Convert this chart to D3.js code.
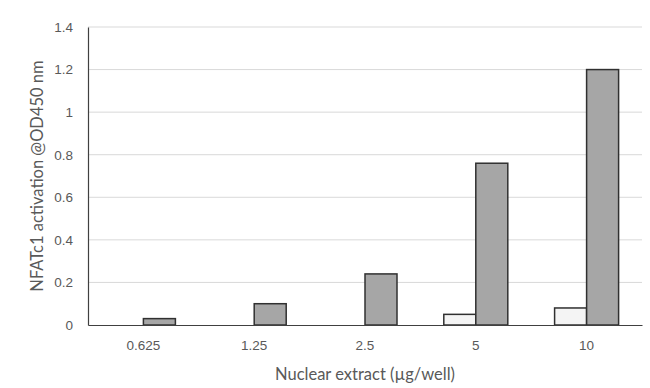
<!DOCTYPE html>
<html>
<head>
<meta charset="utf-8">
<script src="https://cdn.jsdelivr.net/npm/d3@7"></script>
<style>
  body { margin: 0; background: #fff; }
  svg { font-family: Lato, "Open Sans", sans-serif; }
</style>
</head>
<body>
<svg></svg>
<script>
const categories = ['0.625', '1.25', '2.5', '5', '10'];
const seriesNames = ['blank', 'sample'];
const blankValues = [0, 0, 0, 0.05, 0.08];
const sampleValues = [0.03, 0.10, 0.24, 0.76, 1.20];
const yTicks = [0, 0.2, 0.4, 0.6, 0.8, 1, 1.2, 1.4];

const width = 650, height = 388;
const margin = {top: 27, right: 8, bottom: 63, left: 88};

const svg = d3.select('svg').attr('width', width).attr('height', height);

const x0 = d3.scaleBand()
	.domain(categories)
	.range([margin.left, width - margin.right])
	.padding(0);

const barW = 32;
const x1 = d3.scaleBand()
	.domain(seriesNames)
	.range([x0.bandwidth() / 2 - barW, x0.bandwidth() / 2 + barW]);

const y = d3.scaleLinear()
	.domain([0, 1.4])
	.range([height - margin.bottom, margin.top]);

// gridlines
svg.append('g')
	.selectAll('line')
	.data(yTicks.filter(d => d > 0))
	.enter().append('line')
	.attr('x1', margin.left)
	.attr('x2', width - margin.right)
	.attr('y1', d => y(d))
	.attr('y2', d => y(d))
	.attr('stroke', '#d9d9d9')
	.attr('stroke-width', 1);

const rows = categories.map((c, i) => ({cat: c, blank: blankValues[i], sample: sampleValues[i]}));
const fills = {blank: '#f4f4f4', sample: '#a6a6a6'};

svg.append('g')
	.selectAll('g')
	.data(rows)
	.enter().append('g')
	.attr('transform', d => 'translate(' + x0(d.cat) + ',0)')
	.selectAll('rect')
	.data(d => seriesNames.map(k => ({key: k, value: d[k]})).filter(d => d.value > 0))
	.enter().append('rect')
	.attr('x', d => x1(d.key))
	.attr('width', x1.bandwidth())
	.attr('y', d => y(d.value))
	.attr('height', d => y(0) - y(d.value))
	.attr('fill', d => fills[d.key])
	.attr('stroke', '#303030')
	.attr('stroke-width', 1.5);

// y axis
const yAxis = svg.append('g')
	.attr('transform', 'translate(' + margin.left + ',0)')
	.call(d3.axisLeft(y).tickValues(yTicks).tickSize(0).tickPadding(15).tickFormat(d3.format('~g')));
yAxis.select('.domain').attr('stroke', '#404040').attr('stroke-width', 1.2);
yAxis.selectAll('text').attr('fill', '#595959').style('font-size', '13.5px');

// x axis
const xAxis = svg.append('g')
	.attr('transform', 'translate(0,' + y(0) + ')')
	.call(d3.axisBottom(x0).tickSize(0).tickPadding(15));
xAxis.select('.domain').attr('stroke', '#404040').attr('stroke-width', 1.2);
xAxis.selectAll('text').attr('fill', '#595959').style('font-size', '13.5px');

svg.append('text')
	.attr('x', (margin.left + width - margin.right) / 2)
	.attr('y', 380)
	.attr('text-anchor', 'middle')
	.attr('fill', '#595959')
	.style('font-size', '16.5px')
	.text('Nuclear extract (µg/well)');

svg.append('text')
	.attr('transform', 'translate(43,' + y(0.7) + ') rotate(-90)')
	.attr('text-anchor', 'middle')
	.attr('fill', '#595959')
	.style('font-size', '16.5px')
	.text('NFATc1 activation @OD450 nm');
</script>
</body>
</html>
